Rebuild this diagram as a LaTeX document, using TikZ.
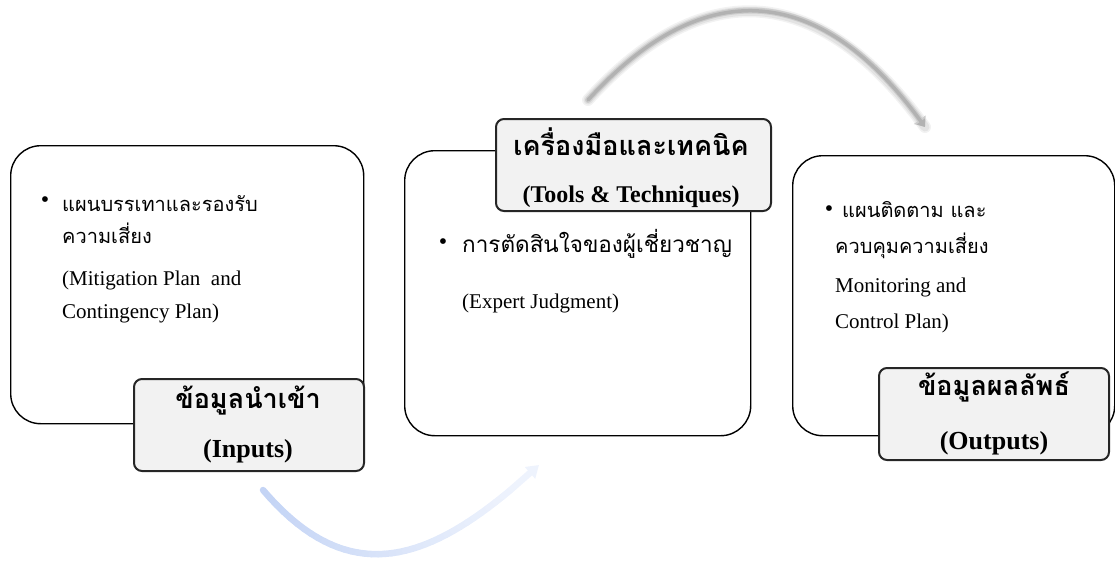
\documentclass[tikz,border=0pt]{standalone}
\usepackage{fontspec}
\setmainfont{Liberation Serif}
\newfontfamily\thai[Script=Thai]{Loma}
\usetikzlibrary{arrows.meta}
\definecolor{lblfill}{HTML}{F2F2F2}
\definecolor{blueA}{HTML}{C4D4F5}
\definecolor{blueB}{HTML}{EEF3FD}
\tikzset{
 bigbox/.style={draw=black, line width=1.4pt, rounded corners=30pt, fill=white, inner sep=0pt, anchor=north west},
 lblbox/.style={draw=black!85, line width=2pt, rounded corners=8pt, fill=lblfill, inner sep=0pt, anchor=north west},
 thtxt/.style={anchor=base west, inner sep=0pt, font=\thai\fontsize{20}{24}\selectfont},
 entxt/.style={anchor=base west, inner sep=0pt, font=\fontsize{21}{25}\selectfont},
 bul/.style={inner sep=0pt, font=\fontsize{24}{26}\selectfont},
 lblth/.style={anchor=base, inner sep=0pt, font=\thai\bfseries\fontsize{27}{32}\selectfont},
 lblen/.style={anchor=base, inner sep=0pt, font=\bfseries\fontsize{26}{30}\selectfont},
}
\begin{document}
\begin{tikzpicture}[x=1pt,y=-1pt]
\useasboundingbox (0,0) rectangle (1115,560);
% top gray arc
\coordinate (ta) at (588,100);
\coordinate (tc1) at (698,-21);
\coordinate (tc2) at (815,-24);
\coordinate (tb) at (925,127);
\draw[line width=12pt, gray!10, line cap=round] (ta) .. controls (tc1) and (tc2) .. (tb);
\draw[line width=9pt, gray!22, line cap=round] (ta) .. controls (tc1) and (tc2) .. (tb);
\draw[line width=6pt, gray!40, line cap=round, -{Triangle[length=9pt,width=14pt]}] (ta) .. controls (tc1) and (tc2) .. (tb);
\draw[line width=3.5pt, gray!60, line cap=round, -{Triangle[length=7pt,width=10pt]}] (ta) .. controls (tc1) and (tc2) .. (tb);
% bottom blue arc
\coordinate (ba) at (263,490);
\coordinate (bc1) at (355,598);
\coordinate (bc2) at (440,556);
\coordinate (bb) at (539,465);
\foreach \i in {0,...,40}{
  \path (ba) .. controls (bc1) and (bc2) .. (bb) coordinate[pos=\i/40] (g\i);
}
\foreach \i [evaluate=\i as \j using int(\i+1), evaluate=\i as \pc using 100*\i/36] in {0,...,35}{
  \draw[line width=6.5pt, line cap=round, blueB!\pc!blueA] (g\i) -- (g\j);
}
\draw[line width=6.5pt, blueB, -{Triangle[length=12pt,width=15pt]}] (g36) -- (g40);
% boxes
\node[bigbox, minimum width=353pt, minimum height=278pt] (b1) at (10,145) {};
\node[bigbox, minimum width=346pt, minimum height=285pt] (b2) at (404,150) {};
\node[bigbox, minimum width=322pt, minimum height=280pt] (b3) at (792,155) {};
\node[lblbox, minimum width=230pt, minimum height=92pt] (l1) at (133,378) {};
\node[lblbox, minimum width=275pt, minimum height=92pt] (l2) at (495,118) {};
\node[lblbox, minimum width=230pt, minimum height=92pt] (l3) at (878,367) {};
% box 1 text
\node[bul] (u1) at (45,202) {•};
\node[thtxt] (t1a) at (62,211) {แผนบรรเทาและรองรับ};
\node[thtxt] (t1b) at (62,243) {ความเสี่ยง};
\node[entxt] (t1c) at (62,285) {(Mitigation Plan\ \ and};
\node[entxt] (t1d) at (62,318) {Contingency Plan)};
% box 2 text
\node[bul] (u2) at (443,244) {•};
\node[thtxt, font=\thai\fontsize{22.5}{26}\selectfont] (t2a) at (462,252) {การตัดสินใจของผู้เชี่ยวชาญ};
\node[entxt] (t2b) at (462,308) {(Expert Judgment)};
% box 3 text
\node[bul] (u3) at (829,211) {•};
\node[thtxt] (t3a) at (842,217) {แผนติดตาม และ};
\node[thtxt] (t3b) at (835,253) {ควบคุมความเสี่ยง};
\node[entxt] (t3c) at (835,292) {Monitoring and};
\node[entxt] (t3d) at (835,328) {Control Plan)};
% labels
\node[lblth] (h1) at (248,408) {ข้อมูลนำเข้า};
\node[lblen] (e1) at (248,457) {(Inputs)};
\node[lblth] (h2) at (631,155) {เครื่องมือและเทคนิค};
\node[lblen, font=\bfseries\fontsize{24}{28}\selectfont] (e2) at (631,202) {(Tools \& Techniques)};
\node[lblth] (h3) at (994,395) {ข้อมูลผลลัพธ์};
\node[lblen] (e3) at (994,449) {(Outputs)};
\end{tikzpicture}
\end{document}
